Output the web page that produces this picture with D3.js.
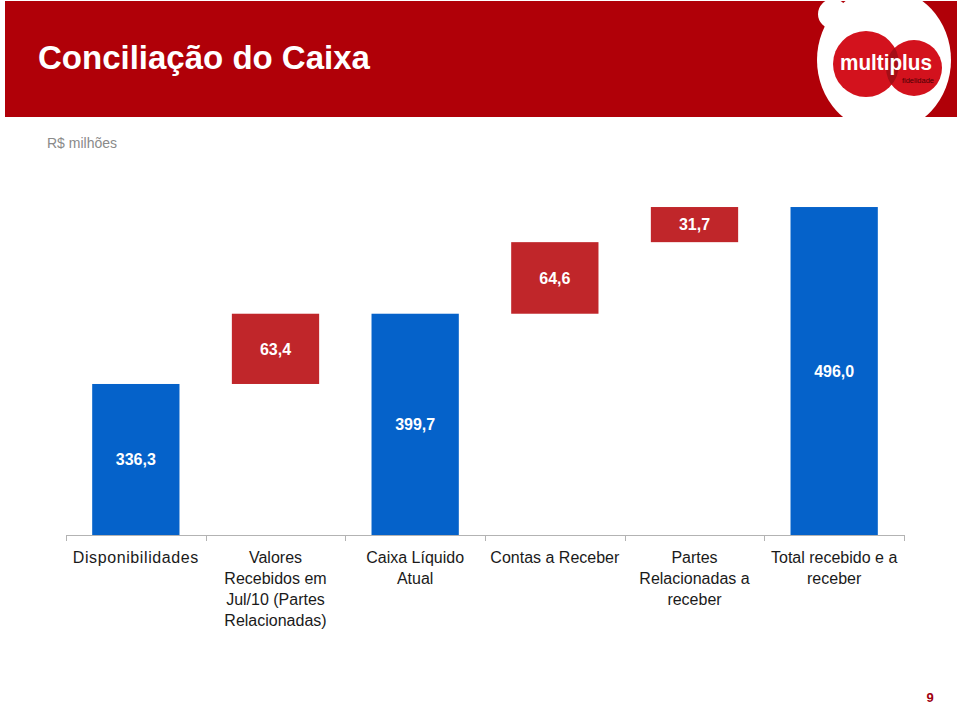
<!DOCTYPE html>
<html>
<head>
<meta charset="utf-8">
<script src="https://cdn.jsdelivr.net/npm/d3@7/dist/d3.min.js"></script>
<style>
  html, body { margin: 0; padding: 0; background: #ffffff; }
  svg { display: block; font-family: "Liberation Sans", Arial, Helvetica, sans-serif; }
</style>
</head>
<body>
<svg id="chart" width="960" height="706"></svg>
<script>
// ---- data ----
const categories = [
  "Disponibilidades",
  "Valores|Recebidos em|Jul/10 (Partes|Relacionadas)",
  "Caixa Líquido|Atual",
  "Contas a Receber",
  "Partes|Relacionadas a|receber",
  "Total recebido e a|receber"
];
const values = [336.3, 63.4, 399.7, 64.6, 31.7, 496.0];
const barTypes = ["total", "delta", "total", "delta", "delta", "total"];
const yDomain = [200, 500];

const title = "Conciliação do Caixa";
const subtitle = "R$ milhões";
const pageNumber = "9";

// ---- setup ----
const svg = d3.select("#chart");
const blue = "#0562CA", red = "#C0262A", headerRed = "#B00008";
const fmt = d3.formatLocale({decimal: ",", thousands: ".", grouping: [3], currency: ["R$", ""]}).format(".1f");

// header band
svg.append("rect").attr("x", 5).attr("y", 1).attr("width", 952).attr("height", 116).attr("fill", headerRed);

// logo
const defs = svg.append("defs");
defs.append("clipPath").attr("id", "hdrClip").append("rect").attr("x", 5).attr("y", 1).attr("width", 952).attr("height", 116);
defs.append("clipPath").attr("id", "leftCircle").append("circle").attr("cx", 866).attr("cy", 64).attr("r", 33);
const logo = svg.append("g").attr("clip-path", "url(#hdrClip)");
logo.append("ellipse").attr("cx", 884).attr("cy", 60).attr("rx", 67).attr("ry", 72).attr("fill", "#ffffff");
logo.append("circle").attr("cx", 833).attr("cy", 14).attr("r", 15).attr("fill", "#ffffff");
logo.append("circle").attr("cx", 914).attr("cy", 68).attr("r", 28).attr("fill", "#D3121D");
logo.append("circle").attr("cx", 866).attr("cy", 64).attr("r", 33).attr("fill", "#D3121D");
logo.append("circle").attr("cx", 914).attr("cy", 68).attr("r", 28).attr("fill", "#A50E16").attr("clip-path", "url(#leftCircle)");
logo.append("text").attr("x", 886).attr("y", 70).attr("text-anchor", "middle")
  .attr("fill", "#ffffff").attr("font-weight", "bold").attr("font-size", 22)
  .attr("textLength", 92).attr("lengthAdjust", "spacingAndGlyphs").text("multiplus");
logo.append("text").attr("x", 934).attr("y", 83).attr("text-anchor", "end")
  .attr("fill", "#4a0004").attr("font-size", 7.5).text("fidelidade");

// title + subtitle
svg.append("text").attr("x", 38).attr("y", 69).attr("fill", "#ffffff")
  .attr("font-weight", "bold").attr("font-size", 33).text(title);
svg.append("text").attr("x", 47).attr("y", 148).attr("fill", "#8a8a8a")
  .attr("font-size", 14).text(subtitle);

// scales
const x = d3.scaleBand().domain(categories).range([66, 904]).padding(0);
const y = d3.scaleLinear().domain(yDomain).range([535, 202.6]);
const barW = x.bandwidth() * 0.625;

// waterfall computation
let running = 0;
const bars = values.map((v, i) => {
  let lo, hi;
  if (barTypes[i] === "total") { lo = yDomain[0]; hi = v; running = v; }
  else { lo = running; hi = running + v; running = hi; }
  return { cat: categories[i], value: v, lo, hi, type: barTypes[i] };
});

// bars
const g = svg.append("g");
g.selectAll("rect.bar").data(bars).join("rect")
  .attr("class", "bar")
  .attr("x", d => x(d.cat) + (x.bandwidth() - barW) / 2)
  .attr("width", barW)
  .attr("y", d => y(d.hi))
  .attr("height", d => y(d.lo) - y(d.hi))
  .attr("fill", d => d.type === "total" ? blue : red);

// value labels
g.selectAll("text.val").data(bars).join("text")
  .attr("class", "val")
  .attr("x", d => x(d.cat) + x.bandwidth() / 2)
  .attr("y", d => (y(d.lo) + y(d.hi)) / 2)
  .attr("dy", "0.36em")
  .attr("text-anchor", "middle")
  .attr("fill", "#ffffff")
  .attr("font-weight", "bold")
  .attr("font-size", 16)
  .text(d => fmt(d.value));

// x axis
const axis = svg.append("g").attr("transform", "translate(0,535)");
axis.append("line").attr("x1", 66).attr("x2", 904).attr("y1", 0.5).attr("y2", 0.5)
  .attr("stroke", "#b3b3b3").attr("stroke-width", 1);
const bounds = categories.map(c => x(c)).concat([x.range()[1]]);
axis.selectAll("line.tick").data(bounds).join("line")
  .attr("class", "tick")
  .attr("x1", d => Math.round(d) + 0.5).attr("x2", d => Math.round(d) + 0.5)
  .attr("y1", 0).attr("y2", 6)
  .attr("stroke", "#b3b3b3");

// category labels
const labels = svg.append("g");
categories.forEach(c => {
  const t = labels.append("text")
    .attr("x", x(c) + x.bandwidth() / 2)
    .attr("y", 563)
    .attr("text-anchor", "middle")
    .attr("fill", "#1a1a1a")
    .attr("font-size", 16)
    .attr("letter-spacing", c === "Disponibilidades" ? 0.6 : 0);
  c.split("|").forEach((line, i) => {
    t.append("tspan").attr("x", x(c) + x.bandwidth() / 2).attr("dy", i === 0 ? 0 : 21).text(line);
  });
});

// page number
svg.append("text").attr("x", 930).attr("y", 702).attr("text-anchor", "middle")
  .attr("fill", "#A00010").attr("font-weight", "bold").attr("font-size", 13).text(pageNumber);
</script>
</body>
</html>
